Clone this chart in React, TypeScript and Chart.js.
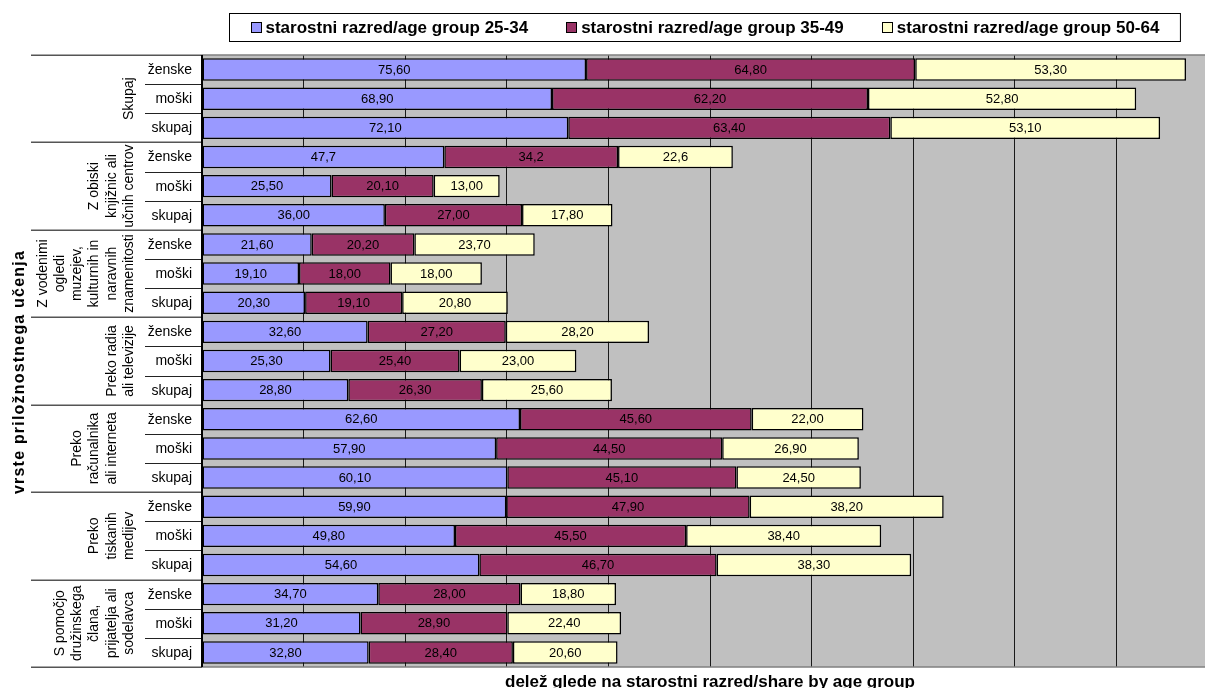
import { useEffect, useRef } from 'react';
import { Chart, registerables } from 'chart.js';

Chart.register(...registerables);

// ---------- data ----------
const groupLabelLines: string[][] = [
  ['Skupaj'],
  ['Z obiski', 'knjižnic ali', 'učnih centrov'],
  ['Z vodenimi', 'ogledi', 'muzejev,', 'kulturnih in', 'naravnih', 'znamenitosti'],
  ['Preko radia', 'ali televizije'],
  ['Preko', 'računalnika', 'ali interneta', ''],
  ['Preko', 'tiskanih', 'medijev'],
  ['S pomočjo', 'družinskega', 'člana,', 'prijatelja ali', 'sodelavca'],
];
const subLabels = ['ženske', 'moški', 'skupaj'];
const seriesNames = [
  'starostni razred/age group 25-34',
  'starostni razred/age group 35-49',
  'starostni razred/age group 50-64',
];
const age2534 = [75.6, 68.9, 72.1, 47.7, 25.5, 36.0, 21.6, 19.1, 20.3, 32.6, 25.3, 28.8, 62.6, 57.9, 60.1, 59.9, 49.8, 54.6, 34.7, 31.2, 32.8];
const age3549 = [64.8, 62.2, 63.4, 34.2, 20.1, 27.0, 20.2, 18.0, 19.1, 27.2, 25.4, 26.3, 45.6, 44.5, 45.1, 47.9, 45.5, 46.7, 28.0, 28.9, 28.4];
const age5064 = [53.3, 52.8, 53.1, 22.6, 13.0, 17.8, 23.7, 18.0, 20.8, 28.2, 23.0, 25.6, 22.0, 26.9, 24.5, 38.2, 38.4, 38.3, 18.8, 22.4, 20.6];
const labelDecimals = [2, 2, 2, 1, 2, 2, 2, 2, 2, 2, 2, 2, 2, 2, 2, 2, 2, 2, 2, 2, 2];
const xMin = 0;
const xMax = 200;
const xStep = 20;
const yTitle = 'vrste priložnostnega učenja';
const xTitle = 'delež glede na starostni razred/share by age group';

// ---------- style ----------
const colors = ['#9999FF', '#993366', '#FFFFCC'];
const FONT = '"Liberation Sans", Arial, Helvetica, sans-serif';

const rowLabels: string[] = [];
groupLabelLines.forEach((g, gi) => subLabels.forEach((s) => rowLabels.push(`${gi}|${s}`)));

function fmt(v: number, d: number) {
  return v.toFixed(d).replace('.', ',');
}

const decor = {
  id: 'decor',
  beforeDraw(chart: any) {
    const { ctx, chartArea: a } = chart;
    ctx.save();
    ctx.fillStyle = '#ffffff';
    ctx.fillRect(0, 0, chart.width, chart.height);
    ctx.fillStyle = '#C0C0C0';
    ctx.fillRect(a.left, a.top, a.right - a.left, a.bottom - a.top);
    ctx.restore();
  },
  afterDatasetsDraw(chart: any) {
    const { ctx } = chart;
    ctx.save();
    ctx.font = `13px ${FONT}`;
    ctx.fillStyle = '#000';
    ctx.textAlign = 'center';
    ctx.textBaseline = 'middle';
    chart.data.datasets.forEach((ds: any, di: number) => {
      const meta = chart.getDatasetMeta(di);
      meta.data.forEach((el: any, i: number) => {
        const p = el.getProps(['x', 'base', 'y'], true);
        ctx.fillText(fmt(ds.data[i], labelDecimals[i]), (p.x + p.base) / 2, p.y + 0.5);
      });
    });
    ctx.restore();
  },
  afterDraw(chart: any) {
    const { ctx, chartArea: a } = chart;
    const yScale = chart.scales.y;
    const n = rowLabels.length;
    const step = (a.bottom - a.top) / n;
    ctx.save();

    // plot top/bottom border
    ctx.strokeStyle = '#808080';
    ctx.lineWidth = 1.5;
    ctx.beginPath();
    ctx.moveTo(a.left, a.top);
    ctx.lineTo(a.right, a.top);
    ctx.moveTo(a.left, a.bottom);
    ctx.lineTo(a.right, a.bottom);
    ctx.stroke();

    // group separators
    ctx.strokeStyle = '#555';
    ctx.lineWidth = 1.5;
    ctx.beginPath();
    for (let g = 0; g <= groupLabelLines.length; g++) {
      const y = Math.round(a.top + g * subLabels.length * step) + 0.25;
      ctx.moveTo(31, y);
      ctx.lineTo(a.left, y);
    }
    ctx.stroke();

    // inner ticks
    ctx.strokeStyle = '#222';
    ctx.lineWidth = 1;
    ctx.beginPath();
    for (let g = 0; g < groupLabelLines.length; g++) {
      for (let k = 1; k < subLabels.length; k++) {
        const y = Math.round(a.top + (g * subLabels.length + k) * step) + 0.5;
        ctx.moveTo(145, y);
        ctx.lineTo(a.left, y);
      }
    }
    ctx.stroke();

    // y axis line
    ctx.strokeStyle = '#000';
    ctx.lineWidth = 2;
    ctx.beginPath();
    ctx.moveTo(a.left, a.top);
    ctx.lineTo(a.left, a.bottom);
    ctx.stroke();

    // sub labels
    ctx.fillStyle = '#000';
    ctx.font = `14px ${FONT}`;
    ctx.textAlign = 'right';
    ctx.textBaseline = 'middle';
    rowLabels.forEach((lab, i) => {
      const y = yScale.getPixelForValue(i);
      ctx.fillText(lab.split('|')[1], a.left - 10, y + 0.5);
    });

    // group labels (rotated)
    ctx.textAlign = 'center';
    groupLabelLines.forEach((lines, g) => {
      const cy = a.top + (g * subLabels.length + subLabels.length / 2) * step;
      const m = lines.length;
      lines.forEach((line, j) => {
        const x = 129 - (m - 1 - j) * 17.2;
        ctx.save();
        ctx.translate(x, cy);
        ctx.rotate(-Math.PI / 2);
        ctx.fillText(line, 0, 0);
        ctx.restore();
      });
    });

    // y title
    ctx.save();
    ctx.font = `bold 16px ${FONT}`;
    if ('letterSpacing' in ctx) (ctx as any).letterSpacing = '1.2px';
    ctx.translate(20, 372);
    ctx.rotate(-Math.PI / 2);
    ctx.textAlign = 'center';
    ctx.textBaseline = 'middle';
    ctx.fillText(yTitle, 0, 0);
    ctx.restore();

    // x title
    ctx.font = `bold 17px ${FONT}`;
    ctx.textAlign = 'center';
    ctx.textBaseline = 'alphabetic';
    ctx.fillText(xTitle, (a.left + a.right) / 2, 687);

    // legend
    ctx.font = `bold 17px ${FONT}`;
    const widths = seriesNames.map((s) => ctx.measureText(s).width);
    const mk = 11;
    const mgap = 4;
    const egap = 38;
    const pad = 21;
    const total = widths.reduce((s, w) => s + mk + mgap + w, 0) + egap * (seriesNames.length - 1);
    const boxW = total + pad * 2;
    const cx = 704;
    const bx = Math.round(cx - boxW / 2) + 0.5;
    const by = 13.5;
    const bh = 28;
    ctx.fillStyle = '#fff';
    ctx.fillRect(bx, by, boxW, bh);
    ctx.strokeStyle = '#000';
    ctx.lineWidth = 1;
    ctx.strokeRect(bx, by, boxW, bh);
    let x = bx + pad;
    const cyL = by + bh / 2;
    seriesNames.forEach((s, i) => {
      ctx.fillStyle = colors[i];
      ctx.fillRect(Math.round(x) + 0.5, Math.round(cyL - mk / 2) + 0.5, mk - 1, mk - 1);
      ctx.strokeStyle = '#000';
      ctx.strokeRect(Math.round(x) + 0.5, Math.round(cyL - mk / 2) + 0.5, mk - 1, mk - 1);
      x += mk + mgap;
      ctx.fillStyle = '#000';
      ctx.textAlign = 'left';
      ctx.textBaseline = 'middle';
      ctx.fillText(s, x, cyL + 1);
      x += widths[i] + egap;
    });

    ctx.restore();
  },
};

export default function App() {
  const ref = useRef<HTMLCanvasElement | null>(null);
  useEffect(() => {
    if (!ref.current) return;
    const seriesData = [age2534, age3549, age5064];
    const chart = new Chart(ref.current, {
      type: 'bar',
      data: {
        labels: rowLabels,
        datasets: seriesData.map((d, i) => ({
          label: seriesNames[i],
          data: d,
          backgroundColor: colors[i],
          borderColor: '#000',
          borderWidth: 1.5,
          borderSkipped: false,
          barPercentage: 0.77,
          categoryPercentage: 1,
        })),
      },
      options: {
        indexAxis: 'y',
        animation: false,
        responsive: true,
        maintainAspectRatio: false,
        events: [],
        layout: { padding: { top: 55, bottom: 21, left: 0, right: 0 } },
        plugins: { legend: { display: false }, tooltip: { enabled: false }, title: { display: false } },
        scales: {
          x: {
            type: 'linear',
            stacked: true,
            min: xMin,
            max: xMax,
            ticks: { display: false, stepSize: xStep },
            grid: { color: '#1a1a1a', lineWidth: 1, drawTicks: false },
            border: { display: false },
            afterFit: (s: any) => {
              s.height = 0;
            },
          },
          y: {
            type: 'category',
            stacked: true,
            ticks: { display: false },
            grid: { display: false, drawTicks: false },
            border: { display: false },
            afterFit: (s: any) => {
              s.width = 202;
            },
          },
        },
      } as any,
      plugins: [decor],
    });
    return () => chart.destroy();
  }, []);
  return (
    <div style={{ position: 'fixed', left: 0, top: 0, width: 1205, height: 688, overflow: 'hidden', background: '#fff' }}>
      <div style={{ position: 'relative', width: 1218, height: 688 }}>
        <canvas ref={ref} />
      </div>
    </div>
  );
}
